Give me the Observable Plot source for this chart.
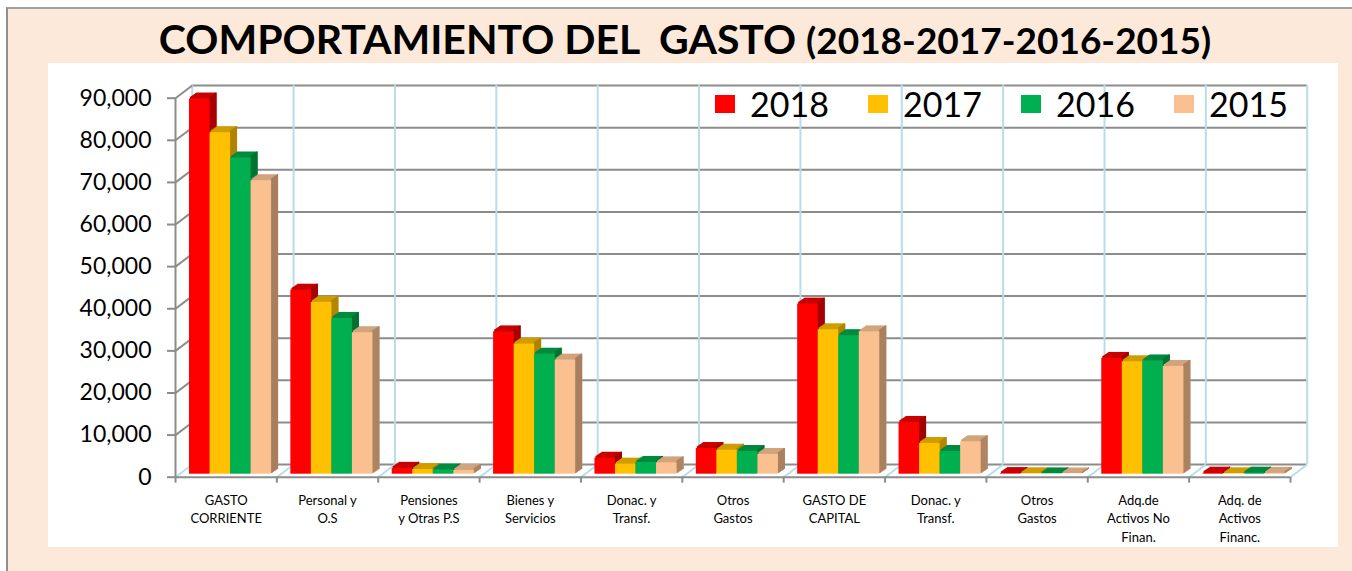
<!DOCTYPE html>
<html>
<head>
<meta charset="utf-8">
<script src="https://cdn.jsdelivr.net/npm/d3@7"></script>
<script src="https://cdn.jsdelivr.net/npm/@observablehq/plot@0.6"></script>
<style>
  body { margin: 0; background: #ffffff; }
  #frame { position: relative; width: 1352px; height: 571px; overflow: hidden; }
  #bg { position: absolute; left: 6px; top: 7px; right: 0; bottom: 0; background: #FDE9D9;
        border-left: 2px solid #8f8f8f; border-top: 2px solid #a0a0a0; }
  #title { position: absolute; left: 9px; top: 18px; width: 1352px; text-align: center;
           font-family: Lato, "Open Sans", sans-serif; font-weight: 700; font-size: 41px;
           line-height: 41px; white-space: pre; color: #000; }
  #title .sub { font-size: 37px; }
  #panel { position: absolute; left: 48px; top: 63px; width: 1290px; height: 484px; background: #ffffff; }
  #chart { position: absolute; left: 48px; top: 63px; }
  #legend { position: absolute; left: 715px; top: 87px; display: flex; }
  #legend .item { width: 153px; display: flex; align-items: center; height: 34px; }
  #legend .sw { width: 20px; height: 18px; margin-right: 15px; }
  #legend .lab { font-family: Lato, "Open Sans", sans-serif; font-size: 34px; line-height: 34px; color: #000; }
</style>
</head>
<body>
<div id="frame">
  <div id="bg"></div>
  <div id="title">COMPORTAMIENTO DEL  GASTO <span class="sub">(2018-2017-2016-2015)</span></div>
  <div id="panel"></div>
  <div id="chart"></div>
  <div id="legend"></div>
</div>
<script>
// ---- data ----
const categories = [
  "GASTO\nCORRIENTE", "Personal y\nO.S", "Pensiones\ny Otras P.S", "Bienes y\nServicios",
  "Donac. y\nTransf.", "Otros\nGastos", "GASTO DE\nCAPITAL", "Donac. y\nTransf.",
  "Otros\nGastos", "Adq.de\nActivos No\nFinan.", "Adq. de\nActivos\nFinanc."
];
const years = ["2018", "2017", "2016", "2015"];
const values2018 = [89100, 43700, 1400, 33800, 3800, 6100, 40400, 12300, 150, 27500, 250];
const values2017 = [81100, 40800, 1100, 30900, 2400, 5700, 34300, 7300, 100, 26700, 100];
const values2016 = [75100, 37000, 1000, 28500, 2800, 5400, 32900, 5400, 80, 26900, 250];
const values2015 = [69700, 33600, 900, 27100, 2700, 4700, 33800, 7700, 60, 25600, 200];
const yTickValues = [0, 10000, 20000, 30000, 40000, 50000, 60000, 70000, 80000, 90000];

const series = [values2018, values2017, values2016, values2015];
const frontColors = ["#FF0000", "#FFC000", "#00B050", "#FAC090"];
const topColors   = ["#C80000", "#D09C00", "#008A3E", "#D2A47C"];
const sideColors  = ["#A00000", "#B08400", "#007230", "#A87F5E"];

// ---- layout ----
const W = 1290, H = 484;
const DX = 0.165, DY = 3000;        // depth of the 3D box in data units
const barW = 0.2025, barStart = -0.362;
const n = categories.length;
const boundaries = d3.range(n + 1).map(k => k - 0.5);
const gray = "#8c8c8c", blue = "#b7dde8";

const marks = [];
// back wall horizontal gridlines
marks.push(Plot.ruleY(yTickValues, {y: d => d + DY, x1: -0.5 + DX, x2: n - 0.5 + DX, stroke: gray, strokeWidth: 2}));
// back wall verticals
marks.push(Plot.ruleX(boundaries, {x: d => d + DX, y1: DY, y2: 90000 + DY, stroke: blue, strokeWidth: 2}));
// floor diagonals
marks.push(Plot.link(boundaries, {x1: d => d, y1: 0, x2: d => d + DX, y2: DY, stroke: blue, strokeWidth: 2}));
// left wall diagonals
marks.push(Plot.link(yTickValues.filter(v => v > 0), {x1: -0.5, y1: d => d, x2: -0.5 + DX, y2: d => d + DY, stroke: gray, strokeWidth: 2}));
// front axes lines
marks.push(Plot.ruleX([-0.5], {y1: 0, y2: 90000, stroke: gray, strokeWidth: 2}));
marks.push(Plot.ruleY([0], {x1: -0.5, x2: n - 0.5, stroke: gray, strokeWidth: 2}));
marks.push(Plot.axisX(boundaries, {tickSize: 6, tickFormat: () => "", label: null, stroke: gray, strokeWidth: 2}));
marks.push(Plot.axisY(yTickValues, {tickSize: 8, tickPadding: 16, tickFormat: d3.format(","), label: null, stroke: gray, strokeWidth: 2, fill: "#000", fontSize: 23}));
// category labels
marks.push(Plot.text(categories, {x: (d, i) => i, y: 0, text: d => d, dy: 14, lineAnchor: "top", lineHeight: 1.45, fontSize: 13, fill: "#000"}));

// bars with 3D extrusion
const base = -3, steps = 7, slope = 0.68;
years.forEach((yr, j) => {
  const rows = categories.map((c, i) => ({i, v: series[j][i], x1: i + barStart + j * barW, x2: i + barStart + (j + 1) * barW}));
  for (let t = 1; t <= steps; t++) {
    marks.push(Plot.rect(rows, {x1: "x1", x2: "x2", y1: 0, y2: "v", fill: topColors[j], insetTop: -1.2, dx: t, dy: base - t * slope}));
  }
  for (let t = 1; t <= steps; t++) {
    marks.push(Plot.rect(rows, {x1: d => d.x2 - 0.012, x2: "x2", y1: 0, y2: "v", fill: sideColors[j], insetTop: -1.2, dx: t, dy: base - t * slope}));
  }
  marks.push(Plot.rect(rows, {x1: "x1", x2: "x2", y1: 0, y2: "v", fill: frontColors[j], dy: base}));
});

const chart = Plot.plot({
  width: W, height: H,
  marginLeft: 127, marginRight: 48, marginTop: 34.7, marginBottom: 70.3,
  x: {type: "linear", domain: [-0.5, n - 0.5]},
  y: {type: "linear", domain: [0, 90000]},
  style: {background: "transparent", fontFamily: "Lato, 'Open Sans', sans-serif", overflow: "visible"},
  marks
});
document.getElementById("chart").appendChild(chart);

// legend
const legend = document.getElementById("legend");
years.forEach((yr, j) => {
  const item = document.createElement("div");
  item.className = "item";
  item.innerHTML = `<div class="sw" style="background:${frontColors[j]}"></div><div class="lab">${yr}</div>`;
  legend.appendChild(item);
});
</script>
</body>
</html>
